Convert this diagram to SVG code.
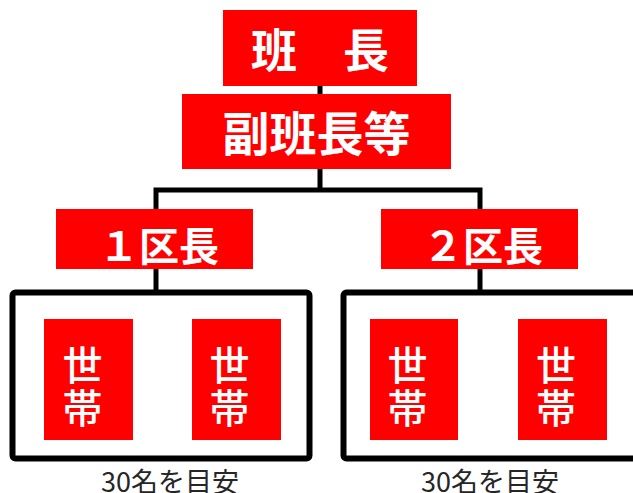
<svg xmlns="http://www.w3.org/2000/svg" width="633" height="493" viewBox="0 0 633 493">
<style>
.box{fill:#ff0000}
.lbl{fill:#ffffff;font-family:"Noto Sans CJK JP","Noto Sans CJK SC",sans-serif;font-weight:bold;text-anchor:middle;dominant-baseline:central}
.v{font-weight:500;font-size:40px}
.conn{stroke:#000;stroke-width:5;fill:none}
.grp{stroke:#000;stroke-width:6;fill:none}
.note{fill:#262626;font-family:"Noto Sans CJK JP",sans-serif;font-size:27px;text-anchor:middle}
</style>
<rect width="633" height="493" fill="#fff"/>
<g id="connectors">
<path class="conn" d="M320 85 V95 M320 168 V190 M156 190 H480 M156 187.5 V210 M480 187.5 V210 M156 268 V292 M480 268 V292"/>
</g>
<g id="hancho">
<rect class="box" x="223" y="10" width="194" height="76"/>
<text class="lbl" x="320" y="47" font-size="46">班　長</text>
</g>
<g id="fukuhancho">
<rect class="box" x="182" y="94" width="269" height="75"/>
<text class="lbl" x="316.5" y="130" font-size="47">副班長等</text>
</g>
<g id="ku1">
<rect class="box" x="56" y="209" width="197" height="60"/>
<text class="lbl" x="159" y="244" font-size="40">１区長</text>
</g>
<g id="ku2">
<rect class="box" x="381" y="209" width="197" height="60"/>
<text class="lbl" x="483" y="244" font-size="40">２区長</text>
</g>
<g id="group1">
<rect class="grp" x="12.5" y="292.5" width="297" height="166" rx="3"/>
<text class="note" x="170" y="492">30名を目安</text>
</g>
<g id="group2">
<rect class="grp" x="343.5" y="292.5" width="297" height="166" rx="3"/>
<text class="note" x="490" y="492">30名を目安</text>
</g>
<g id="setai1">
<rect class="box" x="44" y="319" width="89" height="121"/>
<text class="lbl v" x="82.5" y="363">世</text>
<text class="lbl v" x="82.5" y="406">帯</text>
</g>
<g id="setai2">
<rect class="box" x="192" y="319" width="89" height="121"/>
<text class="lbl v" x="229.5" y="363">世</text>
<text class="lbl v" x="229.5" y="406">帯</text>
</g>
<g id="setai3">
<rect class="box" x="370" y="319" width="88" height="121"/>
<text class="lbl v" x="407.5" y="363">世</text>
<text class="lbl v" x="407.5" y="406">帯</text>
</g>
<g id="setai4">
<rect class="box" x="518" y="319" width="89" height="121"/>
<text class="lbl v" x="556" y="363">世</text>
<text class="lbl v" x="556" y="406">帯</text>
</g>
</svg>
